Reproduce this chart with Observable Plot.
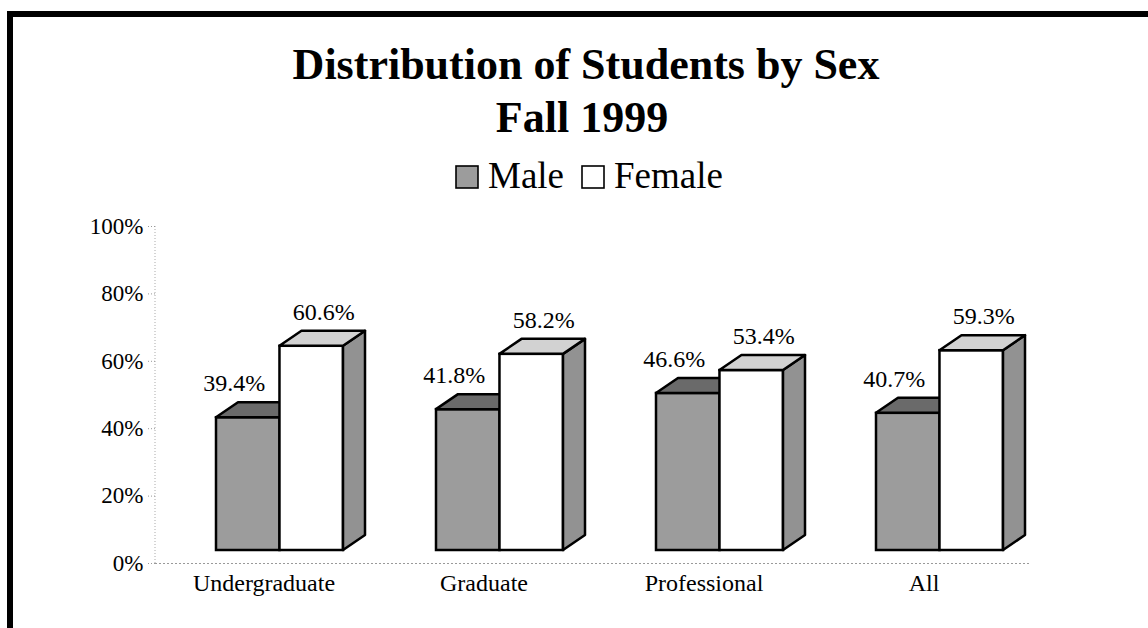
<!DOCTYPE html>
<html><head><meta charset="utf-8">
<script src="https://cdn.jsdelivr.net/npm/d3@7"></script>
<script src="https://cdn.jsdelivr.net/npm/@observablehq/plot@0.6"></script>
<style>
html,body{margin:0;padding:0;background:#fff;width:1148px;height:628px;overflow:hidden;font-family:"Liberation Serif","Times New Roman",Times,"DejaVu Serif",serif;color:#000;}
#frame{position:absolute;left:7px;top:11px;width:1400px;height:900px;border-left:6px solid #000;border-top:6px solid #000;}
.t{position:absolute;left:0;text-align:center;font-weight:bold;font-size:44px;line-height:44px;white-space:nowrap;}
#legend{position:absolute;left:455px;top:156px;display:flex;align-items:center;font-size:37px;line-height:40px;white-space:nowrap;}
#legend .item{display:flex;align-items:center;margin-right:17px;}
#legend svg{margin-right:9px;margin-top:2px;}
#chart{position:absolute;left:0;top:190px;}
</style></head><body>
<div id="frame"></div>
<div class="t" style="top:43px;width:1172px">Distribution of Students by Sex</div>
<div class="t" style="top:96px;width:1164px">Fall 1999</div>
<div id="legend"></div>
<div id="chart"></div>
<script>
const categories = ["Undergraduate", "Graduate", "Professional", "All"];
const series = ["Male", "Female"];
const maleValues = [39.4, 41.8, 46.6, 40.7];
const femaleValues = [60.6, 58.2, 53.4, 59.3];
const yTicks = [0, 20, 40, 60, 80, 100];

const frontFill = {Male: "#9c9c9c", Female: "#ffffff"};
const topFill = {Male: "#6a6a6a", Female: "#d2d2d2"};
const sideFill = "#929292";
const serif = "'Liberation Serif', 'Times New Roman', Times, 'DejaVu Serif', serif";

const maleRows = categories.map((c, i) => ({category: c, sex: "Male", value: maleValues[i]}));
const femaleRows = categories.map((c, i) => ({category: c, sex: "Female", value: femaleValues[i]}));

// legend
const legend = document.getElementById("legend");
series.forEach(s => {
  const item = document.createElement("div");
  item.className = "item";
  item.innerHTML = `<svg width="24" height="24"><rect x="1" y="1" width="22" height="22" fill="${frontFill[s]}" stroke="#000" stroke-width="1.6"/></svg><span>${s}</span>`;
  legend.appendChild(item);
});

const W = 1148, H = 438;
const range = [169.5, 1049.5];
const padIn = 0.423, padOut = padIn / 2;
const step = (range[1] - range[0]) / categories.length;
const bw = step * (1 - padIn);
const barShift = -13;
const fmt = d => d.toFixed(1) + "%";

const plot = Plot.plot({
  width: W, height: H,
  marginLeft: 155, marginRight: 118, marginTop: 36, marginBottom: 65,
  style: {fontFamily: serif, fontSize: "23px", color: "#000", background: "transparent", overflow: "visible"},
  x: {type: "band", domain: categories, range, paddingInner: padIn, paddingOuter: padOut, label: null},
  y: {domain: [0, 100], label: null},
  marks: [
    Plot.ruleY([0], {stroke: "#999", strokeDasharray: "2,2", strokeWidth: 1}),
    Plot.axisY({ticks: yTicks, tickFormat: d => d + "%", tickSize: 8, tickPadding: 4, stroke: "#999", strokeDasharray: "1,2", fontSize: 23, label: null}),
    Plot.axisX({tickSize: 0, tickPadding: 10, dx: -16, fontSize: 24, label: null}),
    Plot.barY(maleRows, {x: "category", y: "value", insetRight: bw / 2, fill: frontFill.Male, stroke: "#000", strokeWidth: 2.5, dy: barShift}),
    Plot.barY(femaleRows, {x: "category", y: "value", insetLeft: bw / 2, fill: frontFill.Female, stroke: "#000", strokeWidth: 2.5, dy: barShift}),
    Plot.text(maleRows, {x: "category", y: "value", text: d => fmt(d.value), dx: -bw / 4 - 14, dy: -47, fontSize: 24}),
    Plot.text(femaleRows, {x: "category", y: "value", text: d => fmt(d.value), dx: bw / 4 + 12, dy: -47, fontSize: 24})
  ]
});

const svgSel = d3.select(plot.tagName.toLowerCase() === "svg" ? plot : plot.querySelector("svg"));

// vertical dotted axis line from the y scale
const ys = plot.scale("y");
svgSel.insert("line", ":first-child")
  .attr("x1", 155).attr("x2", 155)
  .attr("y1", ys.apply(0)).attr("y2", ys.apply(100))
  .attr("stroke", "#aaa").attr("stroke-dasharray", "1,2");

// 3D faces derived from the rendered bars (first bar group = Male, second = Female)
const DX = 22, DY = -15;
const barGroups = svgSel.selectAll('g[aria-label="bar"]').nodes();
function addFaces(gNode, tFill, withSide) {
  const g = d3.select(gNode);
  const rects = Array.from(gNode.querySelectorAll("rect"));
  rects.forEach(el => {
    const x = +el.getAttribute("x"), y = +el.getAttribute("y"), w = +el.getAttribute("width"), h = +el.getAttribute("height");
    if (withSide) {
      g.append("polygon")
        .attr("points", [[x + w, y], [x + w + DX, y + DY], [x + w + DX, y + h + DY], [x + w, y + h]].join(" "))
        .attr("fill", sideFill).attr("stroke", "#000").attr("stroke-width", 2.5).attr("stroke-linejoin", "round");
    }
    g.append("polygon")
      .attr("points", [[x, y], [x + w, y], [x + w + DX, y + DY], [x + DX, y + DY]].join(" "))
      .attr("fill", tFill).attr("stroke", "#000").attr("stroke-width", 2.5).attr("stroke-linejoin", "round");
  });
}
if (barGroups.length >= 2) {
  addFaces(barGroups[0], topFill.Male, false);
  addFaces(barGroups[1], topFill.Female, true);
}

document.getElementById("chart").appendChild(plot);
</script>
</body></html>
